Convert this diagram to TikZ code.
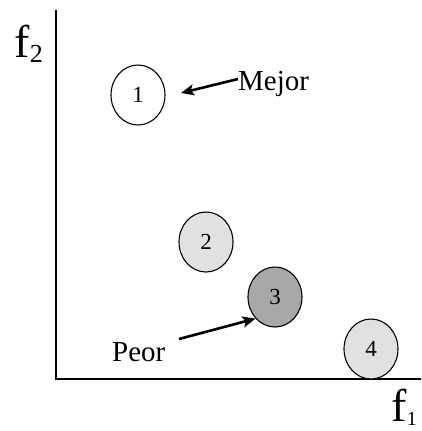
\documentclass[tikz,border=0pt]{standalone}
\usepackage{fontspec}
\setmainfont{Liberation Serif}
\usetikzlibrary{arrows.meta,shapes.geometric}
\begin{document}
\begin{tikzpicture}[x=1pt,y=-1pt,
  pt/.style={draw=black, line width=1.1pt, ellipse, minimum width=54pt, minimum height=60pt, inner sep=0pt, font=\fontsize{23}{23}\selectfont},
  lbl/.style={font=\fontsize{29}{29}\selectfont, inner sep=0pt},
  axlbl/.style={anchor=base west, inner sep=0pt, font=\fontsize{46}{46}\selectfont},
  sublbl/.style={anchor=base west, inner sep=0pt, font=\fontsize{26}{26}\selectfont},
  axis/.style={line width=1.4pt},
  pointer/.style={line width=2.6pt, -{Stealth[length=13pt, width=11pt, inset=3pt]}}
]
\useasboundingbox (0,0) rectangle (421,431);
% axes
\coordinate (top) at (56,10);
\coordinate (origin) at (56,379);
\coordinate (right) at (421,379);
\draw[axis] (top) -- (origin) -- (right);
% axis labels
\node[axlbl] (f2) at (14,57) {f};
\node[sublbl] (s2) at (f2.base east) [yshift=-5pt] {2};
\node[axlbl] (f1) at (391,421) {f};
\node[sublbl, font=\fontsize{20}{20}\selectfont] (s1) at (f1.base east) [yshift=-4pt] {1};
% points
\node[pt, fill=white] (p1) at (138,95) {1};
\node[pt, fill={rgb,255:red,224;green,225;blue,227}] (p2) at (206,242) {2};
\node[pt, fill={rgb,255:red,167;green,168;blue,170}] (p3) at (275,297) {3};
\node[pt, fill={rgb,255:red,224;green,225;blue,227}] (p4) at (371,349) {4};
% labels
\node[lbl, anchor=base west] (mejor) at (238,90) {Mejor};
\node[lbl, anchor=base west] (peor) at (112,361) {Peor};
\coordinate (mtip) at (181,93);
\coordinate (ptail) at (179,339);
\draw[pointer] (mejor.west |- 0,79) -- (mtip);
\draw[pointer] (ptail) -- (p3.south west);
\end{tikzpicture}
\end{document}
